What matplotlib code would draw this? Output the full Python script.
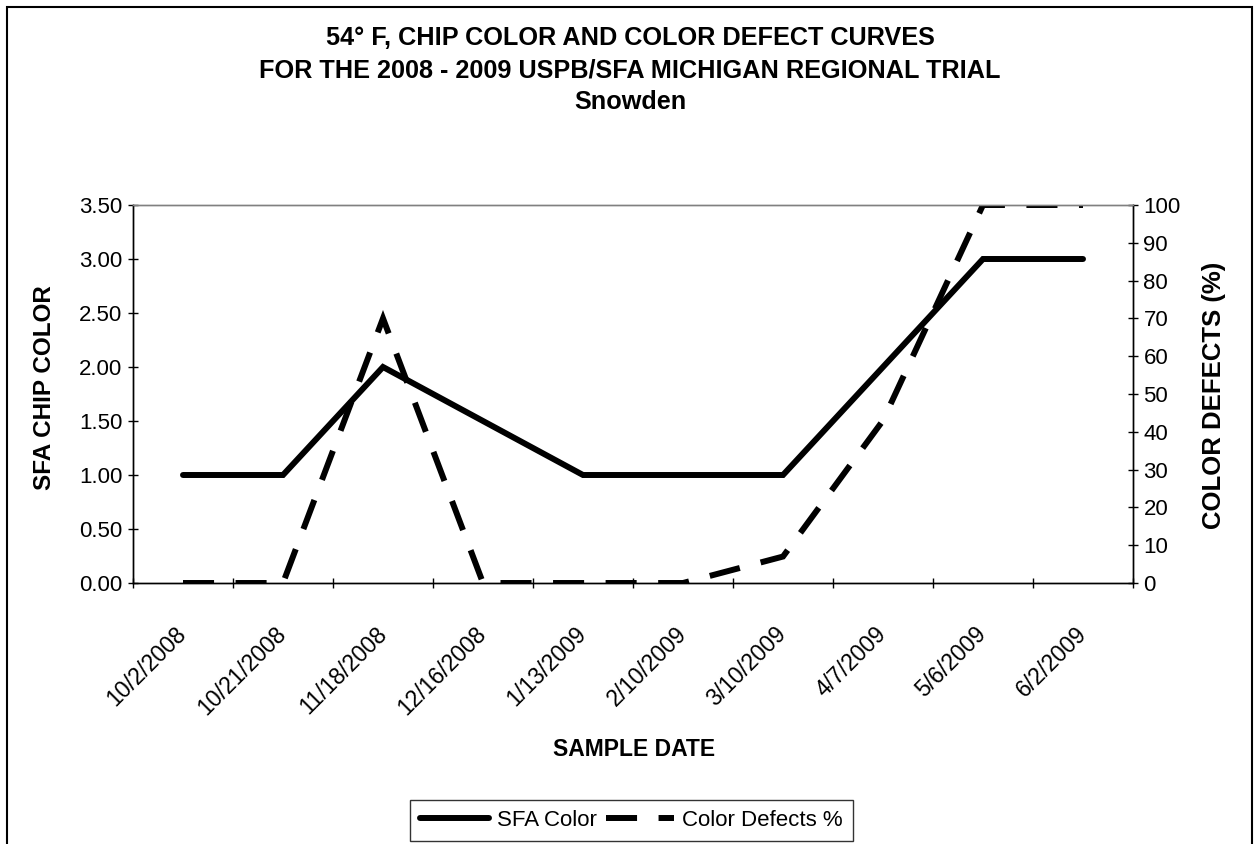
import numpy as np
import matplotlib
matplotlib.use("Agg")
import matplotlib.pyplot as plt
from matplotlib.patches import Rectangle

plt.rcParams['font.family'] = ['Liberation Sans', 'DejaVu Sans']

dates = ['10/2/2008', '10/21/2008', '11/18/2008', '12/16/2008', '1/13/2009',
         '2/10/2009', '3/10/2009', '4/7/2009', '5/6/2009', '6/2/2009']
sfa_color = [1.0, 1.0, 2.0, 1.5, 1.0, 1.0, 1.0, 2.0, 3.0, 3.0]
color_defects = [0, 0, 70, 0, 0, 0, 7, 43, 100, 100]

W, H = 1256, 844
fig = plt.figure(figsize=(W / 100, H / 100), dpi=100)

# plot area in pixels: x 133..1133, y 205..583
ax = fig.add_axes([133 / W, 1 - 583 / H, 1000 / W, 378 / H])
ax2 = ax.twinx()

x = np.arange(len(dates))

l1, = ax.plot(x, sfa_color, color='black', lw=4.3, solid_capstyle='round',
              solid_joinstyle='miter', label='SFA Color')
l2, = ax2.plot(x, color_defects, color='black', lw=4.3, linestyle=(0, (5.2, 3.6)),
               dash_capstyle='butt', dash_joinstyle='miter', label='Color Defects %')

ax.set_xlim(-0.5, len(dates) - 0.5)
ax.set_ylim(0, 3.5)
ax2.set_ylim(0, 100)

ax.set_yticks(np.arange(0, 3.51, 0.5))
ax.set_yticklabels([f"{v:.2f}" for v in np.arange(0, 3.51, 0.5)])
ax2.set_yticks(np.arange(0, 101, 10))

ax.set_xticks(x)
ax.set_xticklabels(dates, rotation=45, ha='right', va='center', rotation_mode='anchor')
ax.set_xticks(np.arange(-0.5, len(dates)), minor=True)
ax.tick_params(axis='x', which='major', length=0, pad=34, labelsize=16.5)
ax.tick_params(axis='x', which='minor', direction='inout', length=7, width=1)
ax.tick_params(axis='y', direction='inout', length=7, width=1, labelsize=16, pad=4)
ax2.tick_params(axis='y', direction='inout', length=7, width=1, labelsize=16, pad=4)

for a in (ax, ax2):
    for s in ('left', 'right', 'bottom'):
        a.spines[s].set_color('black')
        a.spines[s].set_linewidth(1)
    a.spines['top'].set_color('#808080')
    a.spines['top'].set_linewidth(1)

fig.text(630 / W, 1 - 38 / H, "54° F, CHIP COLOR AND COLOR DEFECT CURVES",
         ha='center', va='center', fontsize=18.2, fontweight='bold')
fig.text(630 / W, 1 - 71 / H, "FOR THE 2008 - 2009 USPB/SFA MICHIGAN REGIONAL TRIAL",
         ha='center', va='center', fontsize=18.2, fontweight='bold')
fig.text(630 / W, 1 - 102 / H, "Snowden",
         ha='center', va='center', fontsize=18.2, fontweight='bold')

fig.text(45 / W, 1 - 388 / H, "SFA CHIP COLOR", rotation=90,
         ha='center', va='center', fontsize=17.5, fontweight='bold')
fig.text(1214 / W, 1 - 395 / H, "COLOR DEFECTS (%)", rotation=90,
         ha='center', va='center', fontsize=18.5, fontweight='bold')
fig.text(634 / W, 1 - 750 / H, "SAMPLE DATE",
         ha='center', va='center', fontsize=16.5, fontweight='bold')

leg = fig.legend([l1, l2], ['SFA Color', 'Color Defects %'], loc='center',
                 bbox_to_anchor=(631.5 / W, 1 - 820 / H), ncol=2, fontsize=16,
                 frameon=True, fancybox=False, shadow=False, handlelength=3.1,
                 handletextpad=0.35, columnspacing=0.4, borderpad=0.45,
                 borderaxespad=0)
leg.get_frame().set_edgecolor('black')
leg.get_frame().set_linewidth(1)

# outer chart border
fig.patches.append(Rectangle((7 / W, -0.05), 1245 / W, 1.05 - 7 / H,
                             transform=fig.transFigure, fill=False,
                             edgecolor='black', lw=1.5))

fig.savefig("out.png", dpi=100)
